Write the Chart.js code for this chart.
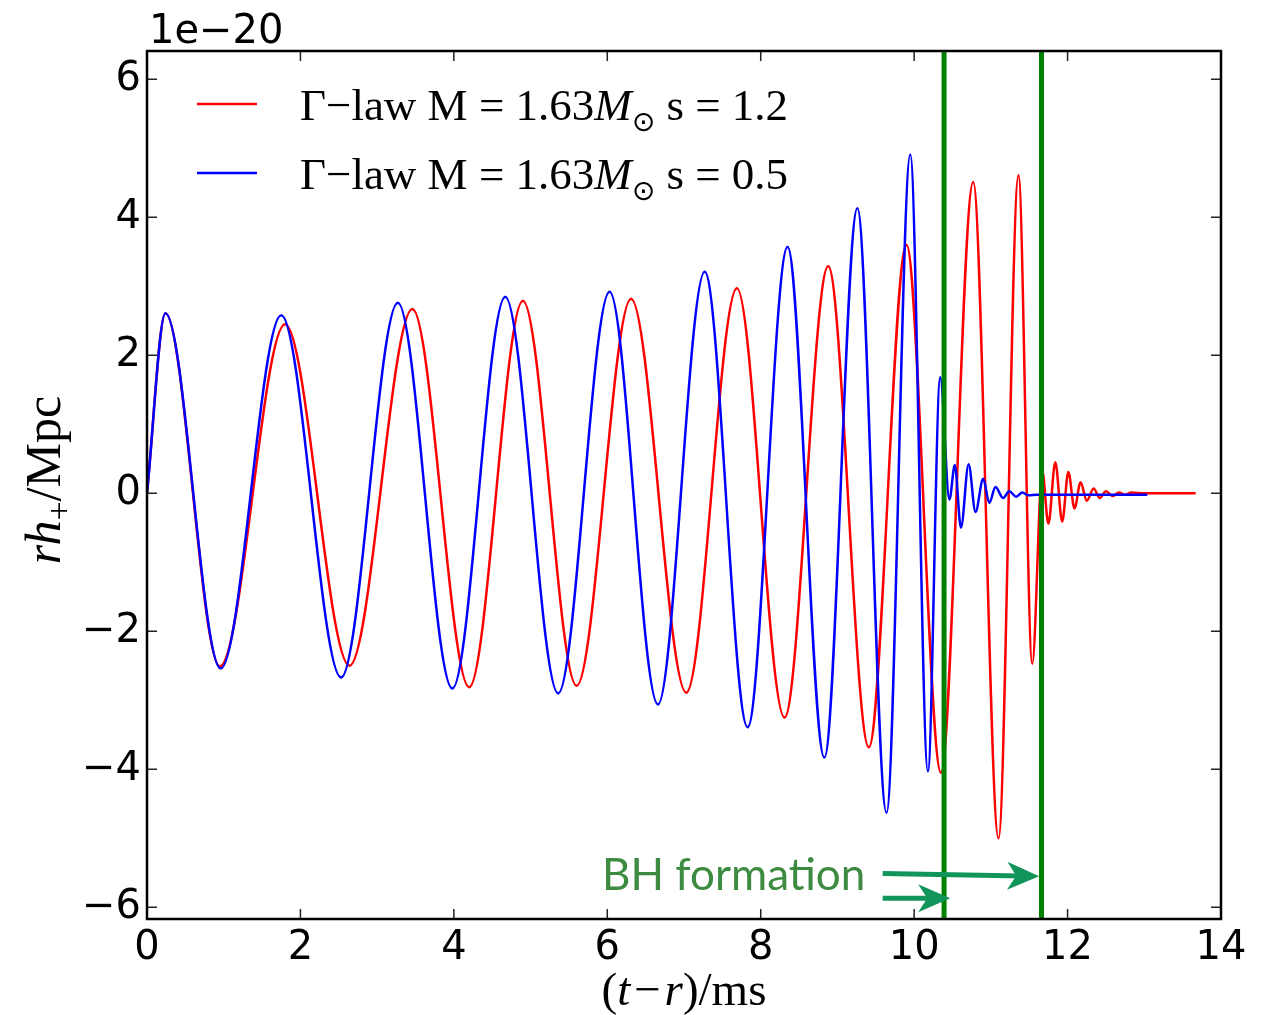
<!DOCTYPE html>
<html>
<head>
<meta charset="utf-8">
<title>rh+ waveforms</title>
<script src="https://cdn.jsdelivr.net/npm/chart.js@4.4.1/dist/chart.umd.min.js"></script>
<style>
  html, body { margin: 0; padding: 0; background: #fff; }
  #wrap { width: 1274px; height: 1015px; position: relative; }
</style>
</head>
<body>
<div id="wrap"><canvas id="waveChart"></canvas></div>
<script>
// values (units of 1e-20), extrema of each wave
var tRed = [0, 0.24, 0.95, 1.80, 2.64, 3.46, 4.20, 4.90, 5.60, 6.31, 7.03, 7.69, 8.31, 8.88, 9.41, 9.90, 10.35,
  10.77, 11.10, 11.36, 11.54, 11.67, 11.75, 11.84, 11.93, 12.01, 12.09, 12.17, 12.25, 12.34, 12.42, 12.50,
  12.59, 12.67, 12.75, 12.83, 13.00, 13.67];
var hRed = [0, 2.61, -2.51, 2.45, -2.50, 2.67, -2.81, 2.79, -2.79, 2.82, -2.89, 2.97, -3.25, 3.29, -3.68, 3.60, -4.05,
  4.51, -5.00, 4.61, -2.47, 0.33, -0.44, 0.45, -0.41, 0.31, -0.22, 0.16, -0.11, 0.07, -0.07, 0.03,
  -0.04, 0.01, -0.02, 0.01, 0, 0];

var tBlue = [0, 0.24, 0.96, 1.75, 2.53, 3.27, 3.98, 4.67, 5.36, 6.03, 6.66, 7.27, 7.83, 8.35, 8.83, 9.26, 9.64,
  9.95, 10.18, 10.34, 10.46, 10.53, 10.61, 10.71, 10.80, 10.90, 10.98, 11.06, 11.16, 11.24, 11.33, 11.41,
  11.49, 11.60, 13.04];
var hBlue = [0, 2.61, -2.54, 2.58, -2.67, 2.76, -2.83, 2.85, -2.90, 2.92, -3.06, 3.21, -3.39, 3.57, -3.83, 4.13, -4.63,
  4.91, -4.03, 1.68, -0.09, 0.41, -0.50, 0.42, -0.27, 0.21, -0.14, 0.09, -0.07, 0.03, -0.05, 0.01,
  -0.03, -0.02, -0.02];

var xTicks = [0, 2, 4, 6, 8, 10, 12, 14];
var yTicks = [-6, -4, -2, 0, 2, 4, 6];
var bhTimes = [10.39, 11.66]; // BH formation markers

function pts(ts, hs){
  var out = [];
  for (var i = 0; i < ts.length; i++) out.push({x: ts[i], y: hs[i]});
  return out;
}

function minus(v){ return String(v).replace('-', '\u2212'); }

// draw a row of text pieces with different fonts / offsets
function runs(ctx, list, x, y, align){
  var w = 0, i;
  for (i = 0; i < list.length; i++){ ctx.font = list[i].font; w += ctx.measureText(list[i].text).width; }
  var cx = align === 'center' ? x - w/2 : x;
  ctx.textAlign = 'left';
  ctx.textBaseline = 'alphabetic';
  for (i = 0; i < list.length; i++){
    ctx.font = list[i].font;
    ctx.fillText(list[i].text, cx, y + (list[i].dy || 0));
    cx += ctx.measureText(list[i].text).width;
  }
}

function arrow(ctx, x1, y1, x2, y2){
  ctx.beginPath();
  ctx.moveTo(x1, y1);
  ctx.lineTo(x2 - 18, y2 + (y1 - y2) * 18 / (x2 - x1));
  ctx.stroke();
  var a = Math.atan2(y2 - y1, x2 - x1);
  ctx.save();
  ctx.translate(x2, y2);
  ctx.rotate(a);
  ctx.beginPath();
  ctx.moveTo(0, 0);
  ctx.lineTo(-32, -14);
  ctx.lineTo(-23, 0);
  ctx.lineTo(-32, 14);
  ctx.closePath();
  ctx.fill();
  ctx.restore();
}

var serif = '"Liberation Serif", "DejaVu Serif", serif';

var decor = {
  id: 'decor',
  afterDatasetsDraw: function(chart){
    var ctx = chart.ctx, a = chart.chartArea;
    var xs = chart.scales.x, ys = chart.scales.y;
    ctx.save();

    // BH formation lines
    ctx.strokeStyle = '#008000';
    ctx.lineWidth = 5;
    bhTimes.forEach(function(t){
      var px = xs.getPixelForValue(t);
      ctx.beginPath(); ctx.moveTo(px, a.top); ctx.lineTo(px, a.bottom); ctx.stroke();
    });

    // inward ticks on all four sides
    ctx.strokeStyle = '#222';
    ctx.lineWidth = 1.5;
    xTicks.forEach(function(v){
      var px = xs.getPixelForValue(v);
      ctx.beginPath();
      ctx.moveTo(px, a.bottom); ctx.lineTo(px, a.bottom - 10);
      ctx.moveTo(px, a.top); ctx.lineTo(px, a.top + 10);
      ctx.stroke();
    });
    yTicks.forEach(function(v){
      var py = ys.getPixelForValue(v);
      ctx.beginPath();
      ctx.moveTo(a.left, py); ctx.lineTo(a.left + 10, py);
      ctx.moveTo(a.right, py); ctx.lineTo(a.right - 10, py);
      ctx.stroke();
    });

    // frame
    ctx.strokeStyle = '#000';
    ctx.lineWidth = 2.5;
    ctx.strokeRect(a.left, a.top, a.right - a.left, a.bottom - a.top);

    // offset text
    ctx.fillStyle = '#000';
    ctx.font = '40px "DejaVu Sans"';
    ctx.textAlign = 'left';
    ctx.textBaseline = 'alphabetic';
    ctx.fillText('1e\u221220', 149, 43);

    // legend
    var leg = [
      {color: '#ff0000', s: '1.2', y: 104},
      {color: '#0000ff', s: '0.5', y: 173}
    ];
    leg.forEach(function(l){
      ctx.strokeStyle = l.color;
      ctx.lineWidth = 2.5;
      ctx.beginPath(); ctx.moveTo(197, l.y); ctx.lineTo(257, l.y); ctx.stroke();
      ctx.fillStyle = '#000';
      runs(ctx, [
        {text: '\u0393\u2212law M\u2005=\u20051.63', font: '45px ' + serif},
        {text: 'M', font: 'italic 45px ' + serif},
        {text: '\u2299', font: '28px "DejaVu Sans"', dy: 11},
        {text: '\u2005s\u2005=\u2005' + l.s, font: '45px ' + serif}
      ], 300, l.y + 16, 'left');
    });

    // axis titles
    runs(ctx, [
      {text: '(', font: '47px ' + serif},
      {text: 't', font: 'italic 47px ' + serif},
      {text: '\u200a\u2212\u200a', font: '47px ' + serif},
      {text: 'r', font: 'italic 47px ' + serif},
      {text: ')/ms', font: '47px ' + serif}
    ], 684, 1005, 'center');

    ctx.save();
    ctx.translate(60, 480);
    ctx.rotate(-Math.PI / 2);
    runs(ctx, [
      {text: 'rh', font: 'italic 50px ' + serif},
      {text: '+', font: '34px ' + serif, dy: 10},
      {text: '/Mpc', font: '50px ' + serif}
    ], 0, 0, 'center');
    ctx.restore();

    // annotation
    ctx.fillStyle = '#3d8b40';
    ctx.font = '44px Lato, "Open Sans", sans-serif';
    ctx.fillText('BH formation', 602, 890);

    ctx.strokeStyle = '#12955a';
    ctx.fillStyle = '#12955a';
    ctx.lineWidth = 5;
    arrow(ctx, xs.getPixelForValue(9.59), ys.getPixelForValue(-5.51), xs.getPixelForValue(11.63), ys.getPixelForValue(-5.55));
    arrow(ctx, xs.getPixelForValue(9.59), ys.getPixelForValue(-5.87), xs.getPixelForValue(10.47), ys.getPixelForValue(-5.87));

    ctx.restore();
  }
};

var tickFont = {family: '"DejaVu Sans"', size: 40};

new Chart(document.getElementById('waveChart'), {
  type: 'line',
  data: {
    datasets: [
      {label: '\u0393\u2212law M=1.63M\u2299 s=1.2', data: pts(tRed, hRed), borderColor: '#ff0000',
       borderWidth: 2.5, pointRadius: 0, cubicInterpolationMode: 'monotone', order: 1},
      {label: '\u0393\u2212law M=1.63M\u2299 s=0.5', data: pts(tBlue, hBlue), borderColor: '#0000ff',
       borderWidth: 2.5, pointRadius: 0, cubicInterpolationMode: 'monotone', order: 0}
    ]
  },
  options: {
    responsive: true,
    maintainAspectRatio: false,
    animation: false,
    layout: {padding: {top: 51, right: 53, left: 0, bottom: 0}},
    plugins: {legend: {display: false}, tooltip: {enabled: false}},
    scales: {
      x: {
        type: 'linear', min: 0, max: 14,
        afterBuildTicks: function(s){ s.ticks = xTicks.map(function(v){ return {value: v}; }); },
        afterFit: function(s){ s.height = 96; },
        grid: {display: false, drawTicks: false},
        border: {display: false},
        ticks: {font: tickFont, color: '#000', padding: 6, maxRotation: 0,
          callback: function(v){ return minus(v); }}
      },
      y: {
        type: 'linear', min: -6.17, max: 6.41,
        afterBuildTicks: function(s){ s.ticks = yTicks.map(function(v){ return {value: v}; }); },
        afterFit: function(s){ s.width = 147; },
        grid: {display: false, drawTicks: false},
        border: {display: false},
        ticks: {font: tickFont, color: '#000', padding: 6,
          callback: function(v){ return minus(v); }}
      }
    }
  },
  plugins: [decor]
});
</script>
</body>
</html>
